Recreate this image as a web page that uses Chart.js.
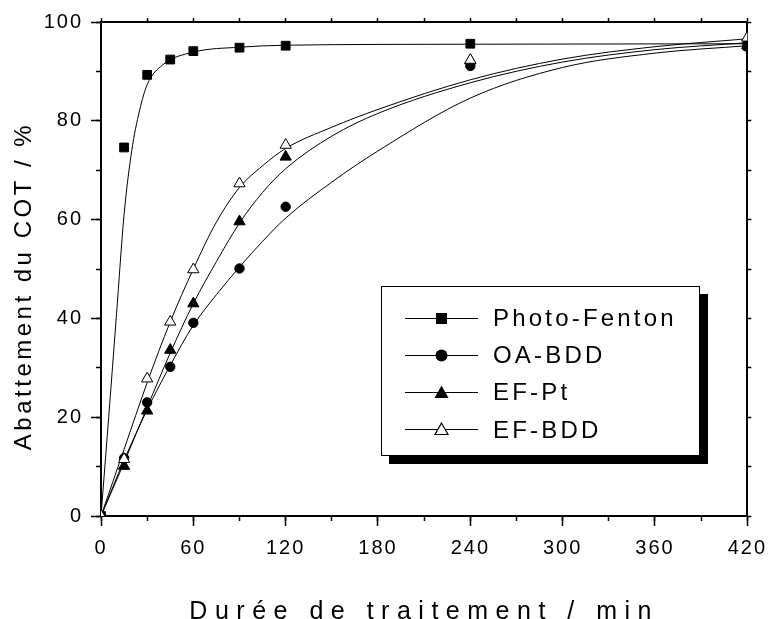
<!DOCTYPE html>
<html>
<head>
<meta charset="utf-8">
<script src="https://cdn.jsdelivr.net/npm/chart.js@4.4.1/dist/chart.umd.min.js"></script>
<style>
  html, body { margin: 0; padding: 0; background: #fff; }
  #wrap { position: relative; width: 777px; height: 619px; }
  #legend {
    position: absolute; left: 381px; top: 286px; width: 317px; height: 168px;
    border: 1px solid #000; background: #fff; box-shadow: 8px 8px 0 #000;
    font-family: "Liberation Sans", Arial, sans-serif; font-size: 24px; letter-spacing: 3.2px; color: #000;
  }
  .row { position: absolute; left: 23px; height: 30px; display: flex; align-items: center; }
  .row svg { margin-right: 14px; }
</style>
</head>
<body>
<div id="wrap">
  <canvas id="cotChart" width="777" height="619"></canvas>
  <div id="legend"></div>
</div>
<script>
// measured points (min, % COT removal)
const times = [0, 15, 30, 45, 60, 90, 120, 240, 420];
const photoFenton = [0, 74.6, 89.3, 92.4, 94.1, 94.8, 95.2, 95.6, 95.2];
const oaBdd = [0, 11.7, 23.0, 30.2, 39.1, 50.1, 62.6, 91.1, 95.0];
const efPt = [0, 10.1, 21.3, 33.6, 43.0, 59.6, 72.7, 92.2, 95.3];
const efBdd = [0, 11.5, 27.8, 39.3, 49.9, 67.3, 75.1, 92.3, 96.8];

// fitted curves
const fitTimesPF = [0, 5, 10, 15, 20, 25, 30, 40, 60, 90, 120, 240, 420];
const fitPhotoFenton = [0, 20, 40.5, 61, 74, 82, 87.3, 91.3, 93.9, 94.9, 95.3, 95.5, 95.6];
const fitTimes = [0, 15, 30, 45, 60, 75, 90, 105, 120, 150, 180, 240, 300, 360, 420];
const fitOaBdd = [0, 11.3, 21.5, 30.5, 38.6, 44.8, 50.4, 55.6, 60.3, 67.6, 73.9, 84.6, 90.8, 93.7, 95.2];
const fitEfPt = [0, 10.8, 22, 33, 43, 51.5, 59.3, 65.5, 70.3, 76.9, 81.5, 87.7, 91.9, 94.4, 95.8];
const fitEfBdd = [0, 13.5, 27, 39.3, 50, 59.5, 66.5, 70.9, 74.4, 78.7, 82.3, 88.3, 92.5, 95, 96.6];

const xTicks = [0, 60, 120, 180, 240, 300, 360, 420];
const xMinorTicks = [0, 30, 60, 90, 120, 150, 180, 210, 240, 270, 300, 330, 360, 390, 420];
const yTicks = [0, 20, 40, 60, 80, 100];
const yMinorTicks = [0, 10, 20, 30, 40, 50, 60, 70, 80, 90, 100];

const seriesNames = ['Photo-Fenton', 'OA-BDD', 'EF-Pt', 'EF-BDD'];

const FONT = '"Liberation Sans", Arial, sans-serif';

function pts(xs, ys) {
    return xs.map((x, i) => ({ x: x, y: ys[i] }));
}

function useTicks(list) {
    return scale => { scale.ticks = list.map(v => ({ value: v })); };
}

// letter spacing for canvas text (the original figure uses spaced lettering)
const spacingPlugin = {
    id: 'spacing',
    beforeLayout(chart) { chart.ctx.letterSpacing = '2px'; },
    beforeDraw(chart) {
        chart.ctx.letterSpacing = '2px';
        ['x', 'y'].forEach(id => {
            const s = chart.scales[id];
            if (s && !s._patched) {
                const orig = s.drawTitle;
                s.drawTitle = function () {
                    const ctx = this.ctx;
                    ctx.save();
                    ctx.letterSpacing = id === 'x' ? '7.5px' : '3.5px';
                    if (id === 'y') ctx.translate(0, 17);
                    orig.apply(this, arguments);
                    ctx.restore();
                };
                s._patched = true;
            }
        });
    }
};

const markerBase = { showLine: false, borderColor: '#000', borderWidth: 1, order: 0 };
const curveBase = {
    showLine: true, pointRadius: 0, borderColor: '#000', borderWidth: 1,
    cubicInterpolationMode: 'monotone', fill: false, order: 1
};

const datasets = [
    Object.assign({}, markerBase, { label: 'EF-BDD', data: pts(times, efBdd), pointStyle: 'triangle', pointRadius: 6.5, backgroundColor: '#fff' }),
    Object.assign({}, markerBase, { label: 'EF-Pt', data: pts(times, efPt), pointStyle: 'triangle', pointRadius: 6.5, backgroundColor: '#000' }),
    Object.assign({}, markerBase, { label: 'OA-BDD', data: pts(times, oaBdd), pointStyle: 'circle', pointRadius: 4.7, backgroundColor: '#000' }),
    Object.assign({}, markerBase, { label: 'Photo-Fenton', data: pts(times, photoFenton), pointStyle: 'rect', pointRadius: 6.2, backgroundColor: '#000' }),
    Object.assign({}, curveBase, { label: 'fit PF', data: pts(fitTimesPF, fitPhotoFenton) }),
    Object.assign({}, curveBase, { label: 'fit OA', data: pts(fitTimes, fitOaBdd) }),
    Object.assign({}, curveBase, { label: 'fit EFPt', data: pts(fitTimes, fitEfPt) }),
    Object.assign({}, curveBase, { label: 'fit EFBDD', data: pts(fitTimes, fitEfBdd) })
];
datasets.forEach(d => { d.xAxisID = 'x'; d.yAxisID = 'y'; });

const tickFont = { family: FONT, size: 20 };
const noGrid = (len) => ({ drawOnChartArea: false, tickLength: len, tickWidth: 1.5, tickColor: '#000' });
const border = { display: true, color: '#000', width: 2 };

new Chart(document.getElementById('cotChart'), {
    type: 'scatter',
    data: { datasets: datasets },
    options: {
        responsive: false,
        animation: false,
        devicePixelRatio: 1,
        layout: { padding: 0 },
        plugins: { legend: { display: false }, tooltip: { enabled: false } },
        scales: {
            x: {
                axis: 'x', type: 'linear', position: 'bottom', min: 0, max: 420,
                afterBuildTicks: useTicks(xTicks),
                afterFit: s => { s.height = 103; },
                grid: noGrid(10), border: border,
                ticks: { color: '#000', font: tickFont, padding: 10, maxRotation: 0, autoSkip: false, callback: v => String(v) },
                title: { display: true, text: 'Durée de traitement / min', color: '#000', font: { family: FONT, size: 25, lineHeight: 1 }, padding: { top: 0, bottom: -6 } }
            },
            xMinor: {
                axis: 'x', type: 'linear', position: 'bottom', weight: -1, min: 0, max: 420,
                afterBuildTicks: useTicks(xMinorTicks),
                afterFit: s => { s.height = 0; },
                grid: noGrid(5), border: { display: false }, ticks: { display: false }
            },
            xTop: {
                axis: 'x', type: 'linear', position: 'top', min: 0, max: 420,
                afterBuildTicks: useTicks(xMinorTicks),
                afterFit: s => { s.height = 22; },
                grid: noGrid(4), border: border, ticks: { display: false }
            },
            y: {
                axis: 'y', type: 'linear', position: 'left', min: 0, max: 100,
                afterBuildTicks: useTicks(yTicks),
                afterFit: s => { s.width = 101; },
                grid: noGrid(10), border: border,
                ticks: { color: '#000', font: tickFont, padding: 8, callback: v => String(v) },
                title: { display: true, text: 'Abattement du COT / %', color: '#000', font: { family: FONT, size: 24 }, padding: { top: 10, bottom: 0 } }
            },
            yMinor: {
                axis: 'y', type: 'linear', position: 'left', weight: -1, min: 0, max: 100,
                afterBuildTicks: useTicks(yMinorTicks),
                afterFit: s => { s.width = 0; },
                grid: noGrid(5), border: { display: false }, ticks: { display: false }
            },
            yRight: {
                axis: 'y', type: 'linear', position: 'right', min: 0, max: 100,
                afterBuildTicks: useTicks(yMinorTicks),
                afterFit: s => { s.width = 25; },
                grid: noGrid(4), border: border, ticks: { display: false }
            }
        }
    },
    plugins: [spacingPlugin]
});

// legend box with drop shadow, drawn as HTML
const legendIcons = [
    '<rect x="31" y="6" width="11" height="11" fill="#000"/>',
    '<circle cx="36.5" cy="11.5" r="6" fill="#000"/>',
    '<polygon points="36.5,4.5 43.5,17 29.5,17" fill="#000"/>',
    '<polygon points="36.5,5 43,16.5 30,16.5" fill="#fff" stroke="#000" stroke-width="1.2"/>'
];
const legend = document.getElementById('legend');
seriesNames.forEach((name, i) => {
    const row = document.createElement('div');
    row.className = 'row';
    row.style.top = (16 + i * 37.2) + 'px';
    row.innerHTML = '<svg width="74" height="23" viewBox="0 0 74 23">' +
        '<line x1="0" y1="11.5" x2="73" y2="11.5" stroke="#000" stroke-width="1"/>' +
        legendIcons[i] + '</svg><span>' + name + '</span>';
    legend.appendChild(row);
});
</script>
</body>
</html>
